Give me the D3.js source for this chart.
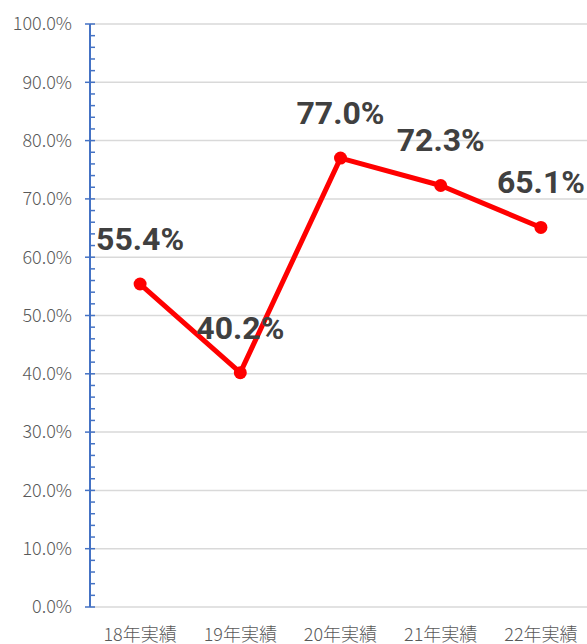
<!DOCTYPE html>
<html>
<head>
<meta charset="utf-8">
<script src="https://cdn.jsdelivr.net/npm/d3@7"></script>
<style>
  body { margin: 0; background: #fff; }
  svg { display: block; }
</style>
</head>
<body>
<script>
var categories = ["18年実績", "19年実績", "20年実績", "21年実績", "22年実績"];
var values = [55.4, 40.2, 77.0, 72.3, 65.1];
var yTicks = [0, 10, 20, 30, 40, 50, 60, 70, 80, 90, 100];

var width = 587,
    height = 644;

var font = "'Noto Sans CJK JP', 'Noto Sans', sans-serif";

var x = d3.scaleBand()
    .domain(categories)
    .range([90, 591]);

var y = d3.scaleLinear()
    .domain([0, 100])
    .range([607, 24]);

var svg = d3.select("body").append("svg")
    .attr("width", width)
    .attr("height", height);

// gridlines
svg.append("g")
  .selectAll("line")
    .data(yTicks)
  .enter().append("line")
    .attr("x1", 90)
    .attr("x2", width)
    .attr("y1", function(d) { return y(d); })
    .attr("y2", function(d) { return y(d); })
    .attr("stroke", "#d9d9d9")
    .attr("stroke-width", 1.5);

// y axis line + ticks
var axis = svg.append("g");
axis.append("line")
    .attr("x1", 90).attr("x2", 90)
    .attr("y1", y(100)).attr("y2", y(0))
    .attr("stroke", "#4472c4")
    .attr("stroke-width", 2);

axis.selectAll("line.minor")
    .data(d3.range(0, 101, 2).filter(function(d) { return d % 10 !== 0; }))
  .enter().append("line")
    .attr("class", "minor")
    .attr("x1", 90).attr("x2", 95)
    .attr("y1", function(d) { return y(d); })
    .attr("y2", function(d) { return y(d); })
    .attr("stroke", "#4472c4")
    .attr("stroke-width", 1.5);

axis.selectAll("line.major")
    .data(yTicks)
  .enter().append("line")
    .attr("class", "major")
    .attr("x1", 85).attr("x2", 95)
    .attr("y1", function(d) { return y(d); })
    .attr("y2", function(d) { return y(d); })
    .attr("stroke", "#4472c4")
    .attr("stroke-width", 1.5);

axis.selectAll("text")
    .data(yTicks)
  .enter().append("text")
    .attr("x", 72)
    .attr("y", function(d) { return y(d); })
    .attr("dy", "0.35em")
    .attr("text-anchor", "end")
    .attr("fill", "#595959")
    .style("font-family", font)
    .style("font-weight", 300)
    .style("font-size", "18px")
    .text(function(d) { return d.toFixed(1) + "%"; });

// x labels
svg.append("g")
  .selectAll("text")
    .data(categories)
  .enter().append("text")
    .attr("x", function(d) { return x(d) + x.bandwidth() / 2; })
    .attr("y", 641)
    .attr("text-anchor", "middle")
    .attr("fill", "#595959")
    .style("font-family", font)
    .style("font-weight", 300)
    .style("font-size", "18px")
    .text(function(d) { return d; });

// line
var line = d3.line()
    .x(function(d, i) { return x(categories[i]) + x.bandwidth() / 2; })
    .y(function(d) { return y(d); });

svg.append("path")
    .datum(values)
    .attr("d", line)
    .attr("fill", "none")
    .attr("stroke", "#ff0000")
    .attr("stroke-width", 5)
    .attr("stroke-linejoin", "round");

svg.append("g")
  .selectAll("circle")
    .data(values)
  .enter().append("circle")
    .attr("cx", function(d, i) { return x(categories[i]) + x.bandwidth() / 2; })
    .attr("cy", function(d) { return y(d); })
    .attr("r", 6.5)
    .attr("fill", "#ff0000");

// data labels
svg.append("g")
  .selectAll("text")
    .data(values)
  .enter().append("text")
    .attr("x", function(d, i) { return x(categories[i]) + x.bandwidth() / 2; })
    .attr("y", function(d) { return y(d) - 34; })
    .attr("text-anchor", "middle")
    .attr("fill", "#404040")
    .style("font-family", "Roboto, 'Noto Sans', sans-serif")
    .style("font-weight", "bold")
    .style("font-size", "32px")
    .text(function(d) { return d.toFixed(1) + "%"; });
</script>
</body>
</html>
